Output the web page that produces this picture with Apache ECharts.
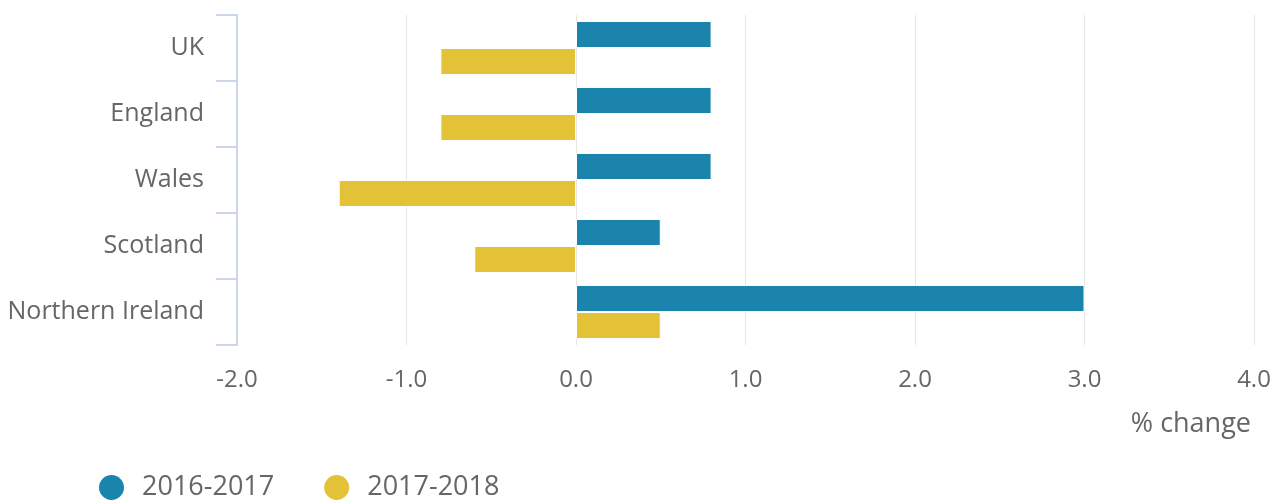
<!DOCTYPE html>
<html>
<head>
<meta charset="utf-8">
<script src="https://cdn.jsdelivr.net/npm/echarts@6/dist/echarts.min.js"></script>
<style>html,body{margin:0;padding:0;background:#fff;}#c{width:1277px;height:501px;}</style>
</head>
<body>
<div id="c"></div>
<script>
const categories = ["UK", "England", "Wales", "Scotland", "Northern Ireland"];
const series2016 = [0.8, 0.8, 0.8, 0.5, 3.0];
const series2017 = [-0.8, -0.8, -1.4, -0.6, 0.5];
const seriesNames = ["2016-2017", "2017-2018"];
const xTicks = { min: -2, max: 4, interval: 1 };

const chart = echarts.init(document.getElementById('c'), null, { renderer: 'canvas' });
const font = '"Open Sans", sans-serif';
chart.setOption({
  animation: false,
  textStyle: { fontFamily: font },
  grid: { left: 237, right: 23, top: 15, bottom: 156, containLabel: false },
  legend: {
    left: 97, top: 473, padding: 0,
    icon: 'circle', itemWidth: 27, itemHeight: 27, itemGap: 48,
    textStyle: { fontFamily: font, fontSize: 27, color: '#666666', padding: [0, 0, 0, 12] },
    data: seriesNames
  },
  xAxis: {
    type: 'value', min: xTicks.min, max: xTicks.max, interval: xTicks.interval,
    axisLine: { show: false }, axisTick: { show: false },
    splitLine: { show: true, lineStyle: { color: '#e6e6e6', width: 1 } },
    axisLabel: { fontFamily: font, fontSize: 24, color: '#666666', margin: 23,
      formatter: v => v.toFixed(1) }
  },
  yAxis: {
    type: 'category', inverse: true, data: categories,
    axisLine: { show: true, onZero: false, lineStyle: { color: '#ccd6eb', width: 2 } },
    axisTick: { show: true, length: 21, lineStyle: { color: '#ccd6eb', width: 2 } },
    axisLabel: { fontFamily: font, fontSize: 25, color: '#666666', margin: 33 }
  },
  graphic: [{
    type: 'text', right: 26, top: 411,
    style: { text: '% change', fontFamily: font, fontSize: 27, fill: '#666666' }
  }],
  series: [
    { name: seriesNames[0], type: 'bar', data: series2016, barGap: '0%', barCategoryGap: '18%',
      itemStyle: { color: '#1a84ac', borderColor: '#ffffff', borderWidth: 1 } },
    { name: seriesNames[1], type: 'bar', data: series2017, barGap: '0%', barCategoryGap: '18%',
      itemStyle: { color: '#e3c238', borderColor: '#ffffff', borderWidth: 1 } }
  ]
});
</script>
</body>
</html>
